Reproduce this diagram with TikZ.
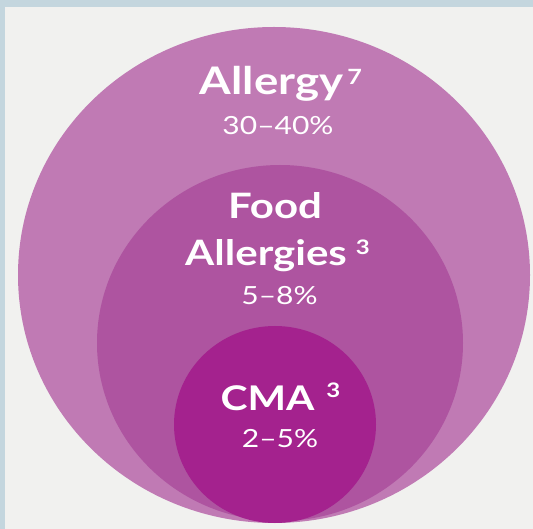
\documentclass[tikz,border=0pt]{standalone}
\usepackage{fontspec}
\setmainfont{Lato}[FakeStretch=1.2]
\definecolor{frameblue}{RGB}{196,214,222}
\definecolor{paper}{RGB}{241,241,239}
\definecolor{ringouter}{RGB}{192,122,180}
\definecolor{ringmid}{RGB}{174,84,160}
\definecolor{ringinner}{RGB}{164,34,142}
\tikzset{
  label base/.style={text=white, inner sep=0pt, anchor=base},
  title/.style={label base, font=\fontsize{#1}{#1}\selectfont\bfseries},
  share/.style={label base, font=\fontsize{25}{25}\selectfont},
}
% reference number set after a title: gap, raise, size, digit
\newcommand{\refmark}[4]{\hspace{#1}\raisebox{#2}{\fontsize{#3}{#3}\selectfont\bfseries #4}}
\begin{document}
\begin{tikzpicture}[x=1pt,y=-1pt]
\useasboundingbox (0,0) rectangle (533,529);
% frame and paper
\fill[frameblue] (0,0) rectangle (533,529);
\fill[paper] (5,7) rectangle (533,529);
% nested circles
\fill[ringouter] (274,275) ellipse [x radius=256, y radius=248];
\fill[ringmid] (280,343) ellipse [x radius=183, y radius=178];
\fill[ringinner] (275,424.5) ellipse [x radius=101, y radius=98.5];
% labels
\node[title=38] (allergy) at (281,95) {Allergy\refmark{4pt}{10pt}{21}{7}};
\node[share] (allergyp) at (278,135) {30–40\%};
\node[title=35] (food) at (275,219) {Food};
\node[title=35] (foodall) at (277.5,266) {Allergies\refmark{9pt}{11pt}{20}{3}};
\node[share] (foodp) at (279.5,305) {5–8\%};
\node[title=34] (cma) at (280.5,410) {CMA\refmark{12pt}{13pt}{20}{3}};
\node[share] (cmap) at (280,447) {2–5\%};
\end{tikzpicture}
\end{document}
